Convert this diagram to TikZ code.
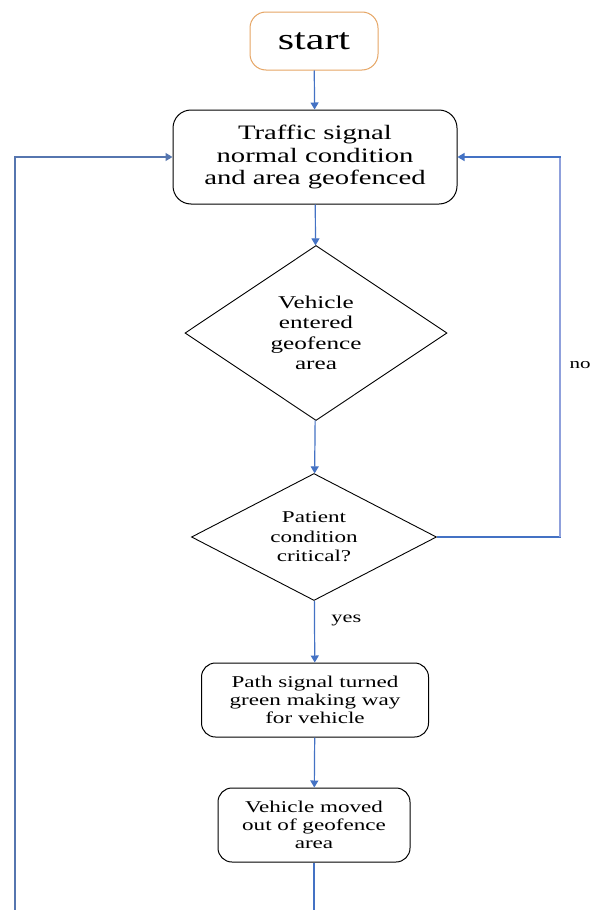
\documentclass[tikz,border=0pt]{standalone}
\usepackage{fontspec}
\setmainfont{Liberation Serif}[FakeStretch=1.4]
\usetikzlibrary{shapes.geometric,arrows.meta}
\definecolor{linkblue}{RGB}{68,114,196}
\definecolor{loopblue}{RGB}{143,160,220}
\definecolor{startorange}{RGB}{230,165,100}

\begin{document}
\begin{tikzpicture}[x=1pt,y=-1pt,
  proc/.style={draw,rounded corners=14pt,line width=1pt,align=center,inner sep=0pt},
  decision/.style={draw,diamond,line width=0.9pt,align=center,inner sep=0pt},
  link/.style={draw=linkblue,line width=1.2pt,-{Triangle[width=8pt,length=7pt]}}]
  \useasboundingbox[fill=white] (0,0) rectangle (590,910);
  % Boxes and decisions
  \node (start) [proc,draw=startorange,rounded corners=16pt,minimum width=128pt,minimum height=58pt,
    font=\fontsize{30}{32}\selectfont] at (314,41) {start};
  \node (normal) [proc,rounded corners=18pt,minimum width=284pt,minimum height=94pt,
    font=\fontsize{20.5}{22.5}\selectfont] at (315,157)
    {Traffic signal\\normal condition\\and area geofenced};
  \node (entered) [decision,shape aspect=1.5,minimum width=262pt,minimum height=175pt,
    font=\fontsize{18}{20.5}\selectfont] at (316,333)
    {Vehicle\\entered\\geofence\\area};
  \node (critical) [decision,shape aspect=1.9,minimum width=245pt,minimum height=127pt,
    font=\fontsize{16.5}{19.5}\selectfont] at (314,537)
    {Patient\\condition\\critical?};
  \node (green) [proc,minimum width=227pt,minimum height=74pt,
    font=\fontsize{16.5}{18}\selectfont] at (315,700)
    {Path signal turned\\green making way\\for vehicle};
  \node (moved) [proc,minimum width=192pt,minimum height=74pt,
    font=\fontsize{16.5}{18}\selectfont] at (314,825)
    {Vehicle moved\\out of geofence\\area};
  \node (no) [anchor=west,font=\fontsize{15}{17}\selectfont] at (566,365) {no};
  % Free ends of the loops
  \coordinate (loopleft) at (15,915);
  \coordinate (loopright) at (560,537);
  \coordinate (tail) at (314,915);
  % Connectors
  \draw [link] (start) -- (normal);
  \draw [link] (normal) -- (entered);
  \draw [link] (entered) -- (critical);
  \draw [link] (critical) -- node [pos=0.32,right=13pt,text=black,font=\fontsize{16}{18}\selectfont] {yes} (green);
  \draw [link] (green) -- (moved);
  \draw [draw=linkblue,line width=1.2pt] (moved) -- (tail);
  \draw [link,draw=linkblue!70!gray] (loopleft) |- (normal.west);
  \draw [link] (critical.east) -- (loopright) |- (normal.east);
  \draw [draw=loopblue,line width=1.4pt] (loopright) -- ([yshift=-1pt]loopright |- normal.east);
\end{tikzpicture}
\end{document}
